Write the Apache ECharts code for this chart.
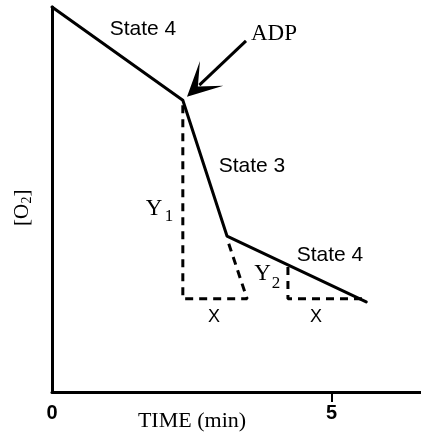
<!DOCTYPE html>
<html>
<head>
<meta charset="utf-8">
<script src="https://cdn.jsdelivr.net/npm/echarts@6/dist/echarts.min.js"></script>
<style>
html,body{margin:0;padding:0;background:#fff;}
#c{width:421px;height:436px;}
</style>
</head>
<body>
<div id="c"></div>
<script>
// Oxygen trace (time in min, [O2] in arbitrary units 0-100)
const traceTime = [0, 2.34, 3.13, 5.62];
const traceO2 = [100, 75.8, 40.5, 23.4];
// Dashed construction for State 3 (Y1 over X)
const tri1Time = [2.34, 2.34, 3.49, 3.15];
const tri1O2 = [74.5, 24.2, 24.2, 39.0];
// Dashed construction for State 4 (Y2 over X)
const tri2Time = [4.22, 4.22, 5.58];
const tri2O2 = [32.5, 24.2, 24.2];
// ADP arrow (start, arrowhead centre)
const arrowTime = [3.47, 2.635];
const arrowO2 = [91.2, 79.7];
// x axis
const xMin = 0, xMax = 6.6, yMin = 0, yMax = 100;
const xTickValues = [5];
const xTickLabels = [0, 5];

const pairs = (xs, ys) => xs.map((x, i) => [x, ys[i]]);
const SANS = 'Liberation Sans';
const SERIF = 'Liberation Serif';

const chart = echarts.init(document.getElementById('c'), null, {renderer: 'canvas'});

function txt(text, x, y, size, family, extra) {
  return Object.assign({
    type: 'text', x: x, y: y, z: 100,
    style: {text: text, fill: '#000', font: size + 'px "' + family + '"', align: 'center', verticalAlign: 'middle'}
  }, extra || {});
}

chart.setOption({
  backgroundColor: '#fff',
  animation: false,
  grid: {left: 52, right: 0, top: 7, bottom: 44},
  xAxis: {
    type: 'value', min: xMin, max: xMax, interval: 5,
    axisLine: {show: true, lineStyle: {color: '#000', width: 3}},
    axisTick: {show: true, customValues: xTickValues, length: 10, lineStyle: {color: '#000', width: 2}},
    axisLabel: {show: true, customValues: xTickLabels, margin: 11, color: '#000', fontFamily: SANS, fontWeight: 'bold', fontSize: 20},
    splitLine: {show: false}
  },
  yAxis: {
    type: 'value', min: yMin, max: yMax,
    axisLine: {show: true, lineStyle: {color: '#000', width: 3}},
    axisTick: {show: false}, axisLabel: {show: false}, splitLine: {show: false}
  },
  series: [
    {
      type: 'line', data: pairs(traceTime, traceO2), symbol: 'none', clip: false,
      lineStyle: {color: '#000', width: 3, join: 'round', cap: 'round'}, z: 5
    },
    {
      type: 'line', data: pairs(tri1Time, tri1O2), symbol: 'none', clip: false,
      lineStyle: {color: '#000', width: 3, type: [8, 6]}, z: 3
    },
    {
      type: 'line', data: pairs(tri2Time, tri2O2), symbol: 'none', clip: false,
      lineStyle: {color: '#000', width: 3, type: [8, 6]}, z: 3
    },
    {
      type: 'lines', coordinateSystem: 'cartesian2d',
      symbol: ['none', 'path://M0,0 L12,34 L0,15 L-12,34 Z'], symbolSize: [24, 34],
      lineStyle: {color: '#000', width: 3, opacity: 1, curveness: 0},
      itemStyle: {color: '#000'},
      data: [{coords: pairs(arrowTime, arrowO2)}], z: 6
    }
  ],
  graphic: [
    txt('State 4', 143, 29, 21, SANS),
    txt('ADP', 274, 34, 23, SERIF),
    txt('State 3', 252, 166, 21, SANS),
    txt('State 4', 330, 255, 21, SANS),
    txt('Y', 154, 209, 23, SERIF),
    txt('1', 169, 217, 17, SERIF),
    txt('Y', 262.5, 274, 23, SERIF),
    txt('2', 276, 284, 17, SERIF),
    txt('X', 214, 317, 18, SANS),
    txt('X', 316, 317, 18, SANS),
    txt('TIME (min)', 192, 421, 22, SERIF),
    {
      type: 'group', x: 22, y: 208, rotation: Math.PI / 2, z: 100,
      children: [
        {type: 'text', x: -18, y: 0, style: {text: '[O', fill: '#000', font: '21px "' + SERIF + '"', align: 'left', verticalAlign: 'middle'}},
        {type: 'text', x: 4.5, y: 5, style: {text: '2', fill: '#000', font: '14px "' + SERIF + '"', align: 'left', verticalAlign: 'middle'}},
        {type: 'text', x: 11.5, y: 0, style: {text: ']', fill: '#000', font: '21px "' + SERIF + '"', align: 'left', verticalAlign: 'middle'}}
      ]
    }
  ]
});
</script>
</body>
</html>
